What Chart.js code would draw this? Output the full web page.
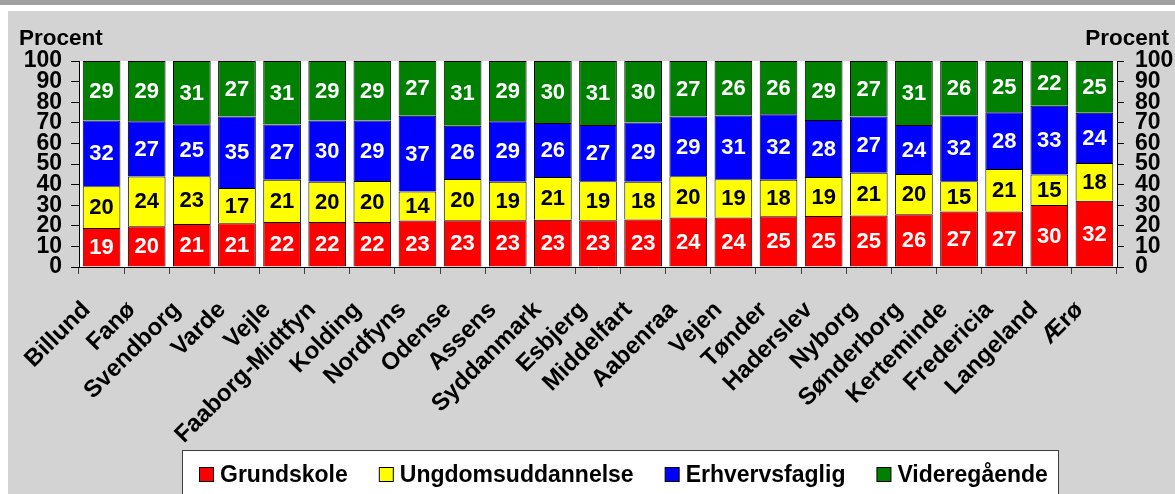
<!DOCTYPE html>
<html><head><meta charset="utf-8">
<script src="https://cdn.jsdelivr.net/npm/chart.js@4.4.0/dist/chart.umd.min.js"></script>
<style>
html,body{margin:0;padding:0;background:#fff;width:1175px;height:494px;overflow:hidden;}
#strip{position:absolute;left:0;top:0;width:1175px;height:5px;background:#a0a0a0;}
#panel{position:absolute;left:8px;top:11px;width:1167px;height:483px;background:#d3d3d3;}
#c{position:absolute;left:0;top:0;}
</style></head><body>
<div id="strip"></div><div id="panel"></div>
<canvas id="c" width="1175" height="494" style="width:1175px;height:494px"></canvas>
<script>
const categories = ['Billund','Fanø','Svendborg','Varde','Vejle','Faaborg-Midtfyn','Kolding','Nordfyns','Odense','Assens','Syddanmark','Esbjerg','Middelfart','Aabenraa','Vejen','Tønder','Haderslev','Nyborg','Sønderborg','Kerteminde','Fredericia','Langeland','Ærø'];
const grundskole        = [18.9,19.8,20.9,21.2,21.8,21.8,21.8,22.6,22.7,22.7,22.9,22.7,23.0,24.0,24.0,24.6,24.8,25.0,25.6,26.9,26.9,30.1,32.2];
const ungdomsuddannelse = [20.3,24.1,23.1,17.2,20.6,19.6,20.0,14.0,20.0,18.7,20.8,18.9,18.4,20.0,18.6,17.8,18.9,20.7,19.6,14.7,20.7,14.8,18.3];
const erhvervsfaglig    = [31.9,26.8,25.3,34.6,26.8,29.7,29.3,36.8,25.9,29.4,26.2,27.3,28.7,29.0,31.0,31.8,27.6,27.3,23.7,32.0,27.5,33.4,24.4];
const videregaaende     = [28.9,29.3,30.7,27.0,30.8,28.9,28.9,26.6,31.4,29.2,30.1,31.1,29.9,27.0,26.4,25.8,28.7,27.0,31.1,26.4,24.9,21.7,25.1];
const seriesNames = ['Grundskole','Ungdomsuddannelse','Erhvervsfaglig','Videregående'];
const yTicks = [0,10,20,30,40,50,60,70,80,90,100];
const axisTitle = 'Procent';

const FONT = '"Liberation Sans", Arial, sans-serif';
const colors = ['#ff0000','#ffff00','#0000ff','#008000'];
const labelColors = ['#ffffff','#000000','#ffffff','#ffffff'];
const seriesData = [grundskole, ungdomsuddannelse, erhvervsfaglig, videregaaende];

const plotBg = {
  id:'plotBg',
  beforeDraw(chart){
    const {ctx, chartArea:a} = chart;
    ctx.save(); ctx.fillStyle='#ffffff';
    ctx.fillRect(a.left, a.top, a.right-a.left, a.bottom-a.top);
    ctx.restore();
  }
};
const valueLabels = {
  id:'valueLabels',
  afterDatasetsDraw(chart){
    const ctx = chart.ctx;
    ctx.save();
    ctx.font = 'bold 22px ' + FONT;
    ctx.textAlign='center'; ctx.textBaseline='middle';
    chart.data.datasets.forEach((ds,i)=>{
      const meta = chart.getDatasetMeta(i);
      meta.data.forEach((bar,j)=>{
        ctx.fillStyle = ds.valueColor;
        ctx.fillText(String(Math.round(ds.data[j])), bar.x, (bar.y+bar.base)/2 + 1);
      });
    });
    ctx.restore();
  }
};
const extras = {
  id:'extras',
  afterDraw(chart){
    const ctx = chart.ctx;
    ctx.save();
    ctx.font = 'bold 22.5px ' + FONT;
    ctx.fillStyle='#000';
    ctx.textBaseline='alphabetic';
    ctx.textAlign='left';
    ctx.fillText(axisTitle, 19, 45);
    ctx.textAlign='right';
    ctx.fillText(axisTitle, 1169, 45);
    // legend box
    ctx.fillStyle='#ffffff';
    ctx.fillRect(182.5, 450.5, 876, 60);
    ctx.strokeStyle='#404040'; ctx.lineWidth=1;
    ctx.strokeRect(182.5, 450.5, 876, 60);
    ctx.font = 'bold 23px ' + FONT;
    let x = 199;
    ctx.textAlign='left'; ctx.textBaseline='middle';
    chart.data.datasets.forEach(ds=>{
      ctx.fillStyle = ds.backgroundColor;
      ctx.fillRect(x+0.5, 467.5, 14, 14);
      ctx.strokeStyle='#000';
      ctx.strokeRect(x+0.5, 467.5, 14, 14);
      ctx.fillStyle='#000';
      ctx.fillText(ds.label, x+21, 476);
      x += 21 + ctx.measureText(ds.label).width + 31;
    });
    ctx.restore();
  }
};

const tickFont = {family: FONT, size: 23, weight:'bold'};
new Chart(document.getElementById('c'), {
  type:'bar',
  data:{
    labels: categories,
    datasets: seriesData.map((d,i)=>({
      label: seriesNames[i], data: d, backgroundColor: colors[i],
      borderColor:'#000', borderWidth:1, borderSkipped:'start',
      barPercentage:0.835, categoryPercentage:1, valueColor: labelColors[i]
    }))
  },
  options:{
    responsive:false, animation:false, devicePixelRatio:1,
    layout:{padding:{top:61,left:0,right:0,bottom:0}},
    plugins:{legend:{display:false}, title:{display:false}, tooltip:{enabled:false}},
    scales:{
      x:{
        stacked:true, offset:true,
        grid:{offset:true, drawOnChartArea:false, drawTicks:true, tickLength:7, color:'#404040', lineWidth:1},
        border:{display:true, color:'#000', width:1},
        ticks:{autoSkip:false, maxRotation:45, minRotation:45, padding:22, labelOffset:-15, color:'#000', font:{family: FONT, size: 24, weight:'bold'}},
        afterFit(s){ s.height = 227; }
      },
      y:{
        stacked:true, min:0, max:100, position:'left',
        afterBuildTicks(s){ s.ticks = yTicks.map(v=>({value:v})); },
        ticks:{autoSkip:false, padding:9, color:'#000', font:tickFont},
        grid:{drawOnChartArea:false, tickLength:8, color:'#000'},
        border:{display:true, color:'#000', width:1},
        afterFit(s){ s.width = 79; }
      },
      y2:{
        min:0, max:100, position:'right',
        afterBuildTicks(s){ s.ticks = yTicks.map(v=>({value:v})); },
        ticks:{autoSkip:false, padding:11, color:'#000', font:tickFont},
        grid:{drawOnChartArea:false, tickLength:7, color:'#000'},
        border:{display:true, color:'#000', width:1},
        afterFit(s){ s.width = 58; }
      }
    }
  },
  plugins:[plotBg, valueLabels, extras]
});
</script>
</body></html>
